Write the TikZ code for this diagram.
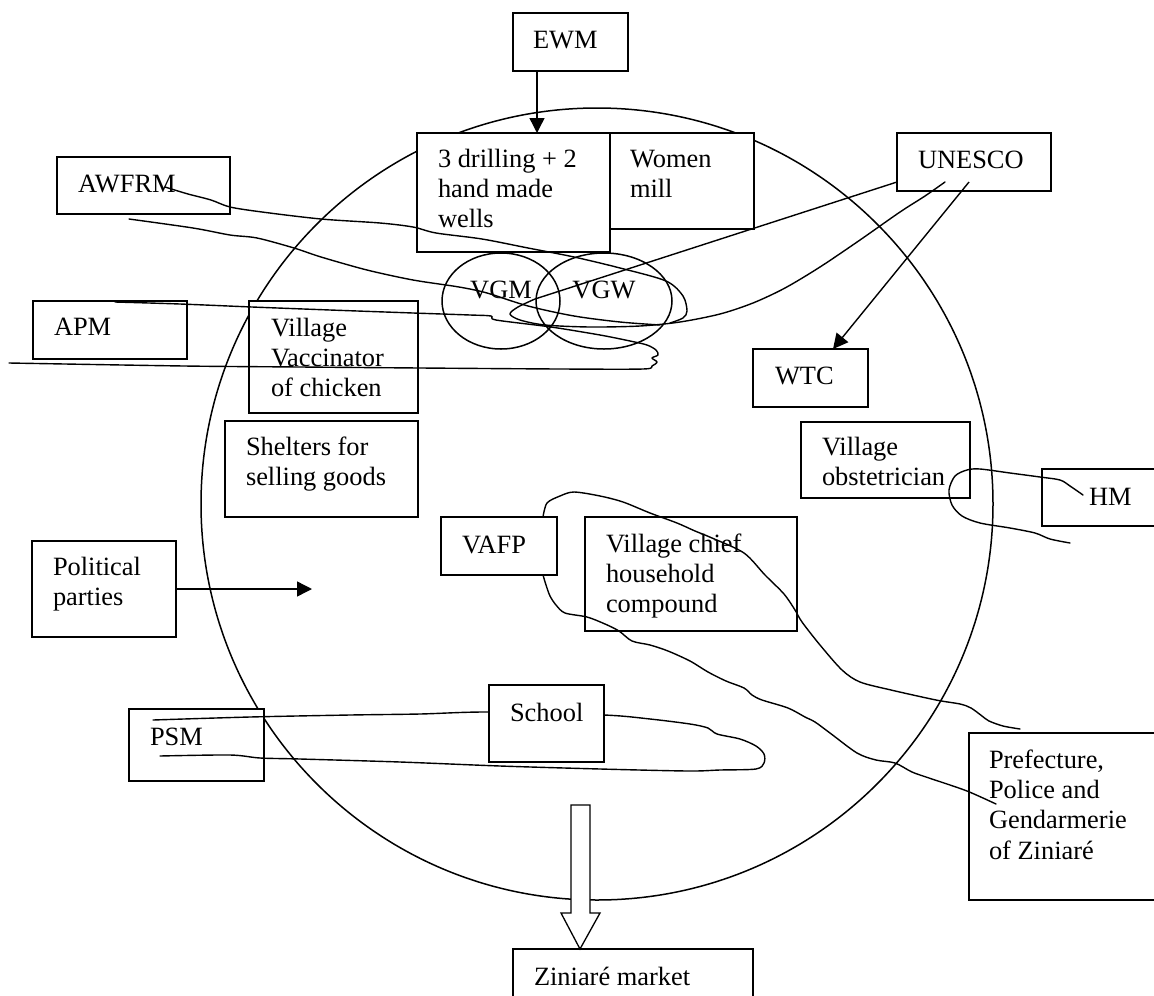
\documentclass[tikz,border=0pt]{standalone}
\usepackage{fontspec}
\setmainfont{Liberation Serif}
\usetikzlibrary{arrows.meta,shapes.geometric,calc}
\newcommand{\tb}[5]{\parbox[c][#2pt][t]{#1pt}{\fontsize{26.4}{30.4}\selectfont\leftskip=#3pt\rightskip=0pt plus 1fil\relax\rule{0pt}{#4pt}#5}}
\begin{document}
\begin{tikzpicture}[x=1pt,y=-1pt,
  bx/.style={draw, fill=white, anchor=north west, inner sep=0pt, outer sep=0pt, line width=1.5pt},
  ell/.style={draw, ellipse, inner sep=0pt, line width=1.5pt, text height=12pt, text depth=18pt, font=\fontsize{26.4}{30.4}\selectfont},
  scrib/.style={line width=1.4pt, line join=round, line cap=round},
  arr/.style={-{Triangle[length=15pt,width=15pt]}, line width=1.4pt}]
\useasboundingbox (0,0) rectangle (1154,996);
\clip (0,0) rectangle (1154,996);
% village circle
\node[draw, circle, minimum size=792pt, inner sep=0pt, line width=1.5pt] (village) at (597,504) {};
% boxes
\node[bx] (ewm) at (513,13) {\tb{115}{58}{20}{35}{EWM}};
\node[bx] (drill) at (417,133) {\tb{193}{119}{21}{34}{3 drilling + 2\\hand made\\wells}};
\node[bx] (mill) at (610,133) {\tb{144}{96}{20}{34}{Women\\mill}};
\node[bx] (unesco) at (897,133) {\tb{154}{58}{21}{35}{UNESCO}};
\node[bx] (awfrm) at (57,157) {\tb{173}{57}{21}{35}{AWFRM}};
\node[bx] (apm) at (33,301) {\tb{154}{58}{21}{34}{APM}};
\node[bx] (vacc) at (249,301) {\tb{169}{112}{22}{35}{Village\\Vaccinator\\of chicken}};
\node[bx] (wtc) at (753,349) {\tb{115}{58}{22}{35}{WTC}};
\node[bx] (shelt) at (225,421) {\tb{193}{96}{21}{34}{Shelters for\\selling goods}};
\node[bx] (obst) at (801,422) {\tb{169}{76}{21}{33}{Village\\obstetrician}};
\node[bx] (hm) at (1042,469) {\tb{140}{57}{47}{36}{HM}};
\node[bx] (vafp) at (441,517) {\tb{116}{58}{21}{36}{VAFP}};
\node[bx] (chief) at (585,517) {\tb{212}{114}{21}{35}{Village chief\\household\\compound}};
\node[bx] (pol) at (32,541) {\tb{144}{96}{21}{34}{Political\\parties}};
\node[bx] (psm) at (129,709) {\tb{135}{72}{21}{36}{PSM}};
\node[bx] (pref) at (969,733) {\tb{200}{167}{20}{35}{Prefecture,\\Police and\\Gendarmerie\\of Ziniaré}};
\node[bx] (market) at (513,949) {\tb{240}{70}{21}{36}{Ziniaré market}};
% PSM - School loop (under the School box)
\draw[scrib] plot[smooth, tension=0.5] coordinates {(153,720) (250,717) (350,715) (420,714) (489,712) (604,715) (650,719) (690,724) (708,728) (717,734) (740,739) (756,746) (764,754) (764,763) (756,769) (720,770) (688,771) (600,769) (500,766) (400,762) (300,759) (260,758) (230,755) (160,756)};
\node[bx] (school) at (489,685) {\tb{115}{77}{21}{36}{School}};
% VGM / VGW
\node[ell, minimum width=118pt, minimum height=96pt] (vgm) at (501,301) {VGM};
\node[ell, minimum width=136pt, minimum height=96pt] (vgw) at (604,301) {VGW};
% arrows
\coordinate (ewmout) at ($(ewm.south west)+(24,0)$);
\draw[arr] (ewmout) -- (ewmout |- drill.north);
\draw[arr] ($(unesco.south west)+(72,-9)$) -- ($(wtc.north west)+(80,0)$);
\coordinate (polend) at (312,589);
\draw[arr] (pol.east) -- (polend);
% scribbled links
\draw[scrib] plot[smooth, tension=0.5] coordinates {(165,187) (188,194) (211,200) (230,207) (262,212) (321,219) (380,223) (413,227) (436,233) (482,239) (528,248) (574,257) (620,268) (666,281) (683,296) (687,311) (683,318) (670,323)};
\draw[scrib] plot[smooth, tension=0.5] coordinates {(129,219) (193,228) (230,235) (257,238) (294,248) (321,257) (367,270) (413,280) (459,287) (487,293) (528,306) (574,316) (620,322) (660,325)};
\draw[scrib] plot[smooth, tension=0.5] coordinates {(945,182) (925,196) (900,212) (860,240) (820,267) (785,288) (753,303) (720,314) (680,322) (640,326) (590,327) (545,325) (520,320) (510,314) (518,307) (535,299)} -- ($(unesco.south west)+(0,-9)$);
\draw[scrib] plot[smooth, tension=0.5] coordinates {(115,302) (180,304) (252,307) (330,310) (413,313) (470,315) (491,316) (496,320) (551,327) (600,335) (630,341) (647,345) (656,350) (658,355) (652,358) (657,362) (652,366) (643,369) (560,369) (420,368) (300,367) (184,366) (9,363)};
\draw[scrib] plot[smooth, tension=0.5] coordinates {(1083,495) (1070,486) (1060,480) (1040,477) (1010,473) (980,469) (967,470) (955,476) (949,490) (952,505) (962,516) (980,523) (1010,528) (1035,533) (1050,539) (1070,543)};
\draw[scrib] plot[smooth, tension=0.5] coordinates {(543,517) (547,503) (560,496) (574,492) (600,496) (623,502) (650,513) (677,523) (695,531) (712,538) (744,553) (765,575) (784,594) (795,610) (802,622) (820,645) (842,670) (860,682) (891,690) (936,700) (960,704) (971,708) (982,716) (989,721) (1003,726) (1020,729)};
\draw[scrib] plot[smooth, tension=0.5] coordinates {(543,575) (546,585) (550,596) (556,605) (565,613) (587,617) (605,624) (619,631) (632,641) (650,645) (668,651) (690,661) (708,672) (726,681) (744,688) (752,695) (762,700) (788,708) (805,717) (815,722) (830,733) (857,753) (876,760) (895,763) (912,772) (929,778) (950,785) (967,791) (983,798) (996,804)};
% hollow arrow to Ziniare market
\draw[fill=white, line width=1.3pt, line join=miter] (571,805) -- (590,805) -- (590,913) -- (600,913) -- (market.north -| 580,0) -- (561,913) -- (571,913) -- cycle;
\end{tikzpicture}
\end{document}
